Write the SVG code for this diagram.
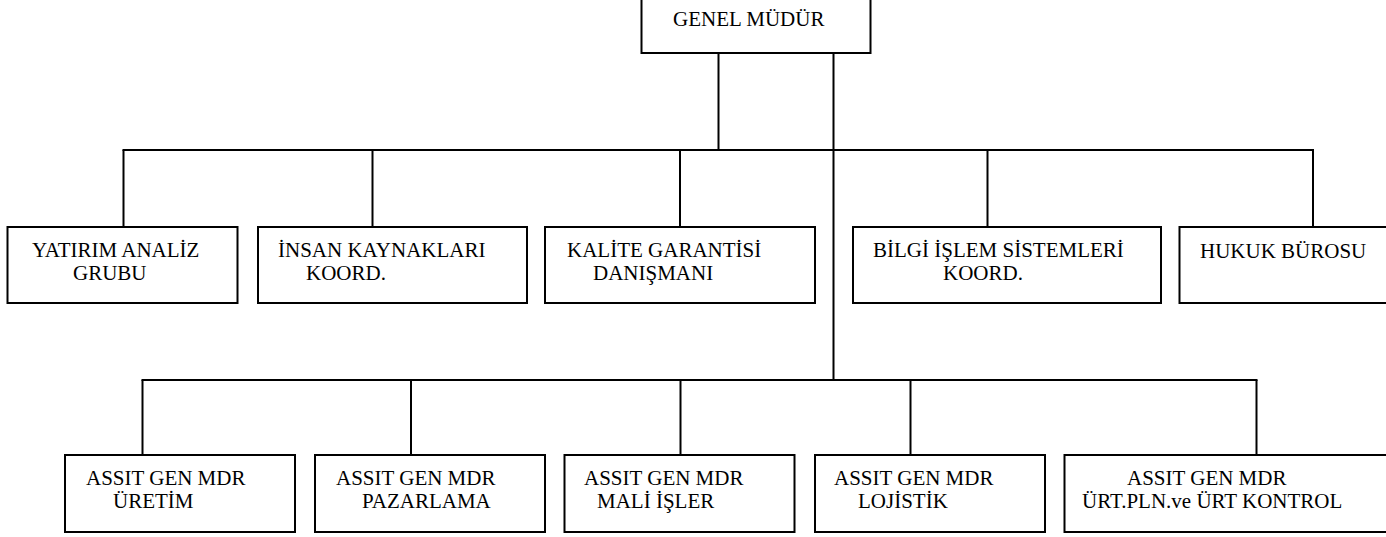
<svg xmlns="http://www.w3.org/2000/svg" width="1386" height="537" viewBox="0 0 1386 537">
<style>
rect{fill:#fff;stroke:#000;stroke-width:2}
line{stroke:#000;stroke-width:2}
text{font-family:"Liberation Serif","Times New Roman",serif;font-size:21px;fill:#000}
</style>
<rect x="0" y="0" width="1386" height="537" style="stroke:none"/>
<g id="connectors">
<line x1="718.5" y1="53" x2="718.5" y2="150"/>
<line x1="833.5" y1="53" x2="833.5" y2="380"/>
<line x1="122.5" y1="150" x2="1314" y2="150"/>
<line x1="123.5" y1="150" x2="123.5" y2="227"/>
<line x1="372.5" y1="150" x2="372.5" y2="227"/>
<line x1="680" y1="150" x2="680" y2="227"/>
<line x1="987.5" y1="150" x2="987.5" y2="227"/>
<line x1="1313" y1="150" x2="1313" y2="227"/>
<line x1="141.5" y1="380" x2="1257.5" y2="380"/>
<line x1="142.5" y1="380" x2="142.5" y2="455"/>
<line x1="411" y1="380" x2="411" y2="455"/>
<line x1="680.5" y1="380" x2="680.5" y2="455"/>
<line x1="910.5" y1="380" x2="910.5" y2="455"/>
<line x1="1256.5" y1="380" x2="1256.5" y2="455"/>
</g>
<g id="genel-mudur"><rect x="641.5" y="-2" width="229" height="55"/><text x="673" y="26">GENEL MÜDÜR</text></g>
<g id="yatirim"><rect x="7.5" y="227" width="230" height="76"/><text x="32" y="257">YATIRIM ANALİZ</text><text x="73" y="280">GRUBU</text></g>
<g id="insan"><rect x="258" y="227" width="269" height="76"/><text x="278" y="257">İNSAN KAYNAKLARI</text><text x="306" y="280">KOORD.</text></g>
<g id="kalite"><rect x="545" y="227" width="270" height="76"/><text x="567" y="257">KALİTE GARANTİSİ</text><text x="593" y="280">DANIŞMANI</text></g>
<g id="bilgi"><rect x="853" y="227" width="308" height="76"/><text x="873" y="257">BİLGİ İŞLEM SİSTEMLERİ</text><text x="943" y="280">KOORD.</text></g>
<g id="hukuk"><rect x="1179.5" y="227" width="220" height="76"/><text x="1200" y="258">HUKUK BÜROSU</text></g>
<g id="uretim"><rect x="65" y="455" width="230" height="77"/><text x="86" y="485">ASSIT GEN MDR</text><text x="113" y="508">ÜRETİM</text></g>
<g id="pazarlama"><rect x="315" y="455" width="230" height="77"/><text x="336" y="485">ASSIT GEN MDR</text><text x="362" y="508">PAZARLAMA</text></g>
<g id="mali"><rect x="564.5" y="455" width="230" height="77"/><text x="584" y="485">ASSIT GEN MDR</text><text x="597" y="508">MALİ İŞLER</text></g>
<g id="lojistik"><rect x="815" y="455" width="230" height="77"/><text x="834" y="485">ASSIT GEN MDR</text><text x="858" y="508">LOJİSTİK</text></g>
<g id="urt-pln"><rect x="1064.5" y="455" width="330" height="77"/><text x="1127" y="485">ASSIT GEN MDR</text><text x="1082" y="508">ÜRT.PLN.ve ÜRT KONTROL</text></g>
</svg>
